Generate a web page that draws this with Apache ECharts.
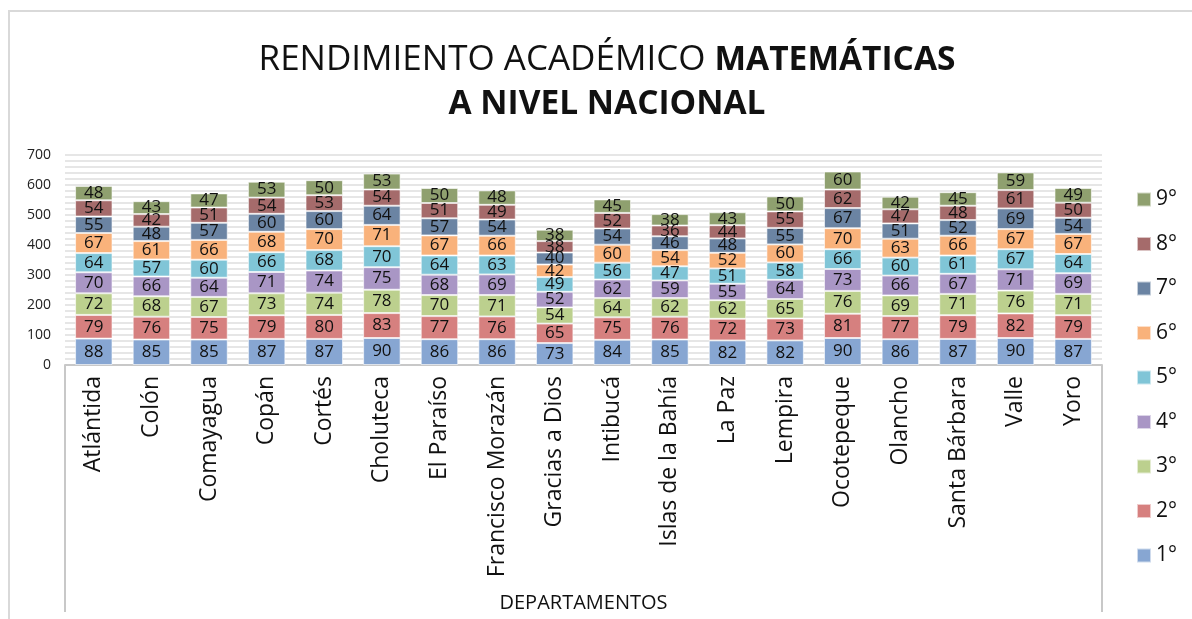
<!DOCTYPE html>
<html>
<head>
<meta charset="utf-8">
<script src="https://cdn.jsdelivr.net/npm/echarts@6/dist/echarts.min.js"></script>
<style>
  html, body { margin: 0; padding: 0; background: #fff; }
  #main { width: 1192px; height: 619px; }
</style>
</head>
<body>
<div id="main"></div>
<script>
// departamentos
var categories = ['Atlántida', 'Colón', 'Comayagua', 'Copán', 'Cortés', 'Choluteca', 'El Paraíso',
  'Francisco Morazán', 'Gracias a Dios', 'Intibucá', 'Islas de la Bahía', 'La Paz', 'Lempira',
  'Ocotepeque', 'Olancho', 'Santa Bárbara', 'Valle', 'Yoro'];

var grade1 = [88, 85, 85, 87, 87, 90, 86, 86, 73, 84, 85, 82, 82, 90, 86, 87, 90, 87];
var grade2 = [79, 76, 75, 79, 80, 83, 77, 76, 65, 75, 76, 72, 73, 81, 77, 79, 82, 79];
var grade3 = [72, 68, 67, 73, 74, 78, 70, 71, 54, 64, 62, 62, 65, 76, 69, 71, 76, 71];
var grade4 = [70, 66, 64, 71, 74, 75, 68, 69, 52, 62, 59, 55, 64, 73, 66, 67, 71, 69];
var grade5 = [64, 57, 60, 66, 68, 70, 64, 63, 49, 56, 47, 51, 58, 66, 60, 61, 67, 64];
var grade6 = [67, 61, 66, 68, 70, 71, 67, 66, 42, 60, 54, 52, 60, 70, 63, 66, 67, 67];
var grade7 = [55, 48, 57, 60, 60, 64, 57, 54, 40, 54, 46, 48, 55, 67, 51, 52, 69, 54];
var grade8 = [54, 42, 51, 54, 53, 54, 51, 49, 38, 52, 36, 44, 55, 62, 47, 48, 61, 50];
var grade9 = [48, 43, 47, 53, 50, 53, 50, 48, 38, 45, 38, 43, 50, 60, 42, 45, 59, 49];

var gradeNames = ['1°', '2°', '3°', '4°', '5°', '6°', '7°', '8°', '9°'];
var gradeData = [grade1, grade2, grade3, grade4, grade5, grade6, grade7, grade8, grade9];
var gradeColors = ['#87a6d2', '#d6807f', '#bcd08e', '#a996c5', '#80c5d7', '#f9b27b', '#6b84a3', '#a56b6b', '#8fa06f'];

var yTicks = [0, 100, 200, 300, 400, 500, 600, 700];

var font = 'Open Sans, Noto Sans, sans-serif';

var series = gradeNames.map(function (name, i) {
  return {
    name: name,
    type: 'bar',
    stack: 'total',
    barCategoryGap: '35%',
    data: gradeData[i],
    itemStyle: {
      color: gradeColors[i],
      borderColor: 'rgba(255,255,255,0.6)',
      borderWidth: 1
    },
    label: {
      show: true,
      position: 'inside',
      color: '#111',
      fontFamily: font,
      fontSize: 17
    }
  };
});

var chart = echarts.init(document.getElementById('main'));

chart.setOption({
  animation: false,
  title: {
    text: '{n|RENDIMIENTO ACADÉMICO }{b|MATEMÁTICAS}\n{b|A NIVEL NACIONAL}',
    left: 602,
    top: 33,
    textAlign: 'center',
    textStyle: {
      rich: {
        n: { fontFamily: font, fontSize: 35, fontWeight: 'normal', color: '#111', lineHeight: 44 },
        b: { fontFamily: font, fontSize: 33.5, fontWeight: 'bold', color: '#111', lineHeight: 44 }
      }
    }
  },
  legend: {
    orient: 'vertical',
    right: 10,
    top: 184,
    data: gradeNames.slice().reverse(),
    itemWidth: 14,
    itemHeight: 14,
    itemGap: 23.5,
    icon: 'rect',
    textStyle: { fontFamily: font, fontSize: 21, color: '#111' }
  },
  grid: {
    left: 65,
    right: 90,
    top: 155,
    bottom: 254
  },
  xAxis: {
    type: 'category',
    data: categories,
    name: 'DEPARTAMENTOS',
    nameLocation: 'middle',
    nameGap: 228,
    nameTextStyle: { fontFamily: font, fontSize: 20, color: '#111' },
    axisLine: { lineStyle: { color: '#c8c8c8', width: 2 } },
    axisTick: { show: false },
    axisLabel: {
      rotate: 90,
      margin: 11,
      interval: 0,
      fontFamily: font,
      fontSize: 23,
      color: '#111'
    }
  },
  yAxis: {
    type: 'value',
    min: yTicks[0],
    max: yTicks[yTicks.length - 1],
    interval: 100,
    axisLine: { show: false },
    axisTick: { show: false },
    axisLabel: { fontFamily: font, fontSize: 14, color: '#222', margin: 14 },
    splitLine: { lineStyle: { color: '#e6e6e6', width: 2 } },
    minorTick: { show: false, splitNumber: 5 },
    minorSplitLine: { show: true, lineStyle: { color: '#e6e6e6', width: 2 } }
  },
  graphic: [
    { type: 'line', shape: { x1: 9, y1: 10, x2: 9, y2: 619 }, style: { stroke: '#d9d9d9', lineWidth: 2 } },
    { type: 'line', shape: { x1: 9, y1: 11, x2: 1192, y2: 11 }, style: { stroke: '#d9d9d9', lineWidth: 2 } },
    { type: 'line', shape: { x1: 65, y1: 365, x2: 65, y2: 612 }, style: { stroke: '#c8c8c8', lineWidth: 2 } },
    { type: 'line', shape: { x1: 1102, y1: 365, x2: 1102, y2: 612 }, style: { stroke: '#c8c8c8', lineWidth: 2 } }
  ],
  series: series
});
</script>
</body>
</html>
